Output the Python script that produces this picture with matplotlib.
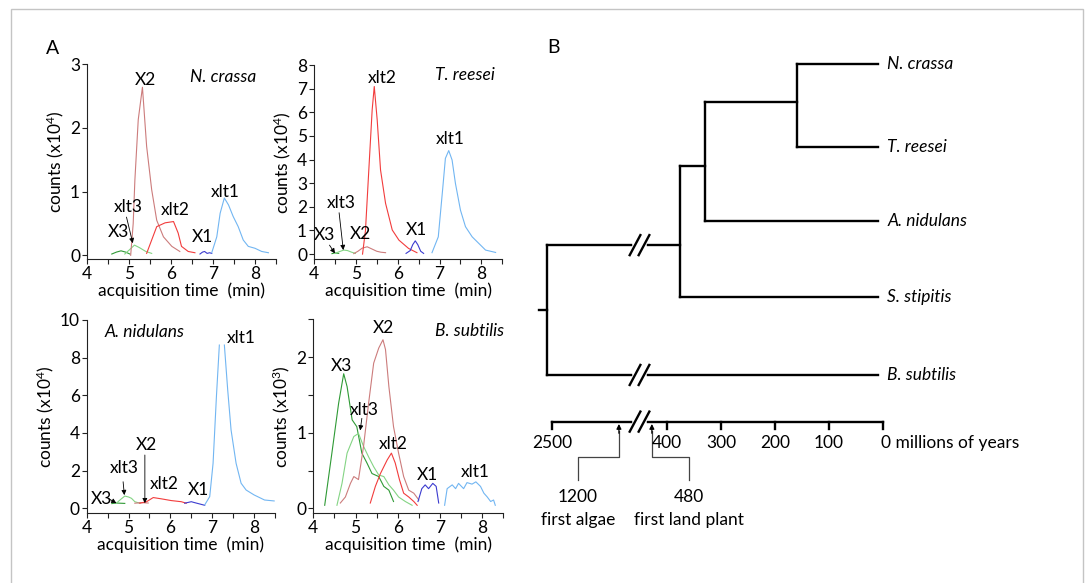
import numpy as np
import matplotlib
matplotlib.use("Agg")
import matplotlib.pyplot as plt
from matplotlib.patches import Rectangle

plt.rcParams['font.family'] = ['Lato', 'DejaVu Sans']
plt.rcParams['mathtext.fontset'] = 'custom'
plt.rcParams['mathtext.rm'] = 'Lato'
plt.rcParams['mathtext.it'] = 'Lato:italic'

colors = {'X3': '#2f9a35', 'xlt3': '#84d484', 'X2': '#cc7c7c',
          'xlt2': '#f23c3c', 'X1': '#3b3bcf', 'xlt1': '#72b6f2'}

# ---- N. crassa (counts x10^4)
nc_x3_t = [4.59, 4.7, 4.81, 4.92, 5.02]
nc_x3_y = [0.02, 0.05, 0.07, 0.05, 0.02]
nc_xlt3_t = [4.9, 5.0, 5.13, 5.25, 5.4, 5.54]
nc_xlt3_y = [0.02, 0.08, 0.16, 0.12, 0.06, 0.03]
nc_x2_t = [5.04, 5.1, 5.14, 5.22, 5.32, 5.42, 5.54, 5.66, 5.82, 6.02, 6.21]
nc_x2_y = [0.0, 0.5, 1.18, 2.13, 2.64, 1.71, 1.03, 0.55, 0.29, 0.14, 0.06]
nc_xlt2_t = [5.42, 5.54, 5.66, 5.86, 6.06, 6.17, 6.25, 6.41, 6.57]
nc_xlt2_y = [0.03, 0.24, 0.45, 0.51, 0.53, 0.35, 0.14, 0.06, 0.04]
nc_x1_t = [6.69, 6.75, 6.8, 6.86, 6.92, 6.97]
nc_x1_y = [0.02, 0.05, 0.06, 0.03, 0.04, 0.03]
nc_xlt1_t = [6.97, 7.09, 7.17, 7.27, 7.37, 7.48, 7.6, 7.72, 7.84, 8.0, 8.16, 8.32]
nc_xlt1_y = [0.04, 0.29, 0.66, 0.9, 0.79, 0.61, 0.45, 0.24, 0.14, 0.11, 0.06, 0.04]

# ---- T. reesei (counts x10^4)
tr_x3_t = [4.43, 4.5, 4.59]
tr_x3_y = [0.02, 0.05, 0.03]
tr_xlt3_t = [4.5, 4.6, 4.71, 4.8, 4.9, 4.99]
tr_xlt3_y = [0.03, 0.1, 0.17, 0.15, 0.08, 0.03]
tr_x2_t = [4.95, 5.05, 5.15, 5.27, 5.38, 5.5, 5.6, 5.71]
tr_x2_y = [0.02, 0.12, 0.25, 0.31, 0.22, 0.12, 0.08, 0.06]
tr_xlt2_t = [5.16, 5.23, 5.31, 5.39, 5.44, 5.51, 5.59, 5.71, 5.87, 6.03, 6.26, 6.46]
tr_xlt2_y = [0.0, 1.0, 3.56, 6.1, 7.09, 5.68, 3.56, 2.15, 1.02, 0.59, 0.24, 0.06]
tr_x1_t = [6.2, 6.3, 6.36, 6.42, 6.48, 6.55, 6.62]
tr_x1_y = [0.03, 0.15, 0.4, 0.56, 0.4, 0.12, 0.03]
tr_xlt1_t = [6.82, 6.97, 7.08, 7.14, 7.22, 7.3, 7.38, 7.5, 7.62, 7.78, 7.94, 8.1, 8.34]
tr_xlt1_y = [0.06, 0.73, 2.85, 4.05, 4.38, 3.98, 2.99, 1.86, 1.16, 0.73, 0.45, 0.17, 0.07]

# ---- A. nidulans (counts x10^4)
an_x3_t = [4.6, 4.7, 4.8, 4.91]
an_x3_y = [0.25, 0.28, 0.27, 0.26]
an_xlt3_t = [4.71, 4.8, 4.91, 5.0, 5.07, 5.15, 5.27]
an_xlt3_y = [0.27, 0.45, 0.65, 0.6, 0.53, 0.35, 0.27]
an_x2_t = [5.15, 5.3, 5.47]
an_x2_y = [0.27, 0.3, 0.28]
an_xlt2_t = [5.27, 5.43, 5.59, 5.79, 6.02, 6.26, 6.38]
an_xlt2_y = [0.27, 0.35, 0.57, 0.5, 0.41, 0.35, 0.27]
an_x1_t = [6.34, 6.5, 6.58, 6.7, 6.82]
an_x1_y = [0.27, 0.35, 0.3, 0.23, 0.16]
an_xlt1_t = [6.82, 6.94, 7.02, 7.1, 7.17, 7.23, 7.29, 7.37, 7.45, 7.57, 7.69, 7.81, 8.0, 8.25, 8.48]
an_xlt1_y = [0.18, 0.62, 2.39, 5.93, 8.67, np.nan, 8.67, 6.28, 4.16, 2.39, 1.33, 0.97, 0.71, 0.44, 0.39]

# ---- B. subtilis (counts x10^3)
bs_x3_t = [4.27, 4.44, 4.6, 4.72, 4.8, 4.92, 5.03, 5.15, 5.27, 5.39, 5.55, 5.67, 5.79, 5.9]
bs_x3_y = [0.04, 0.73, 1.39, 1.78, 1.61, 1.17, 1.08, 0.73, 0.6, 0.46, 0.42, 0.29, 0.24, 0.09]
bs_xlt3_t = [4.56, 4.68, 4.8, 4.96, 5.07, 5.19, 5.31, 5.43, 5.55, 5.67, 5.79, 5.9, 6.02, 6.18, 6.34]
bs_xlt3_y = [0.04, 0.33, 0.73, 0.95, 0.99, 0.82, 0.68, 0.55, 0.44, 0.42, 0.31, 0.24, 0.15, 0.09, 0.04]
bs_x2_t = [4.64, 4.76, 4.88, 4.96, 5.07, 5.19, 5.31, 5.43, 5.55, 5.65, 5.71, 5.79, 5.9, 6.02,
           6.14, 6.26, 6.38, 6.5]
bs_x2_y = [0.07, 0.15, 0.33, 0.42, 0.38, 0.82, 1.39, 1.92, 2.12, 2.23, 2.1, 1.61, 1.08, 0.73,
           0.42, 0.24, 0.2, 0.11]
bs_xlt2_t = [5.35, 5.47, 5.59, 5.67, 5.75, 5.85, 5.94, 6.04, 6.14, 6.26, 6.38, 6.46]
bs_xlt2_y = [0.07, 0.29, 0.46, 0.55, 0.64, 0.73, 0.6, 0.38, 0.2, 0.15, 0.09, 0.04]
bs_x1_t = [6.48, 6.57, 6.65, 6.73, 6.83, 6.91, 6.97]
bs_x1_y = [0.09, 0.26, 0.31, 0.26, 0.33, 0.29, 0.07]
bs_xlt1_t = [7.11, 7.17, 7.29, 7.37, 7.44, 7.56, 7.64, 7.76, 7.85, 7.96, 8.04, 8.12, 8.2, 8.27, 8.31]
bs_xlt1_y = [0.04, 0.26, 0.31, 0.26, 0.33, 0.26, 0.34, 0.32, 0.35, 0.29, 0.2, 0.15, 0.09, 0.11, 0.04]

# ---- tree (panel B)
taxa = ['N. crassa', 'T. reesei', 'A. nidulans', 'S. stipitis', 'B. subtilis']
taxa_row = [0, 1.07, 2.02, 3.0, 4.0]
tip_age = 10
node_names = ['NcTr', 'NcTrAn', 'Fungi', 'Root']
node_age = [160, 330, 375, 2600]
node_row = [0.49, 1.31, 2.33, 3.16]
node_children = [['N. crassa', 'T. reesei'], ['NcTr', 'A. nidulans'],
                 ['NcTrAn', 'S. stipitis'], ['Fungi', 'B. subtilis']]
time_ticks = [2500, 400, 300, 200, 100, 0]
event_age = [1200, 480]
event_text = ['1200', '480']
event_name = ['first algae', 'first land plant']
break_age = 750

fig = plt.figure(figsize=(10.9, 5.83), dpi=100)
W, H = 1090, 583
FS = 12.5

# light frame around the figure
fig.patches.append(Rectangle((11 / W, -0.05), 1072 / W, 1 - 9 / H + 0.05, transform=fig.transFigure,
                             fill=False, edgecolor='#c4c4c4', lw=1.0))


def panel(rect, curves, ylim, yticks, exp, species, sp_pos, labels, arrows, yminor=None):
    ax = fig.add_axes(rect)
    for name, t, y in curves:
        ax.plot(t, y, color=colors[name], lw=0.8)
    ax.set_xlim(4, 8.5)
    ax.set_ylim(*ylim)
    ax.set_xticks([4, 5, 6, 7, 8])
    ax.set_xticks(np.arange(4.5, 8.6, 1.0), minor=True)
    ax.set_yticks(yticks)
    if yminor is not None:
        ax.set_yticks(yminor, minor=True)
    for s in ['top', 'right']:
        ax.spines[s].set_visible(False)
    for s in ['left', 'bottom']:
        ax.spines[s].set_linewidth(0.8)
        ax.spines[s].set_color('#222222')
    ax.tick_params(which='both', direction='out', length=3.5, width=0.8, color='#222222',
                   labelsize=FS, pad=1.5)
    ax.set_xlabel('acquisition time  (min)', fontsize=FS, labelpad=0)
    ax.set_ylabel('counts (x10$^{%d}$)' % exp, fontsize=FS, labelpad=3)
    ax.text(sp_pos[0], sp_pos[1], species, fontsize=FS, style='italic', ha='center', va='center')
    for txt, x, y in labels:
        ax.text(x, y, txt, fontsize=FS, ha='center', va='center')
    for (x0, y0), (x1, y1) in arrows:
        ax.annotate('', xy=(x1, y1), xytext=(x0, y0),
                    arrowprops=dict(arrowstyle='-|>', color='black', lw=0.6,
                                    mutation_scale=7, shrinkA=0, shrinkB=0))
    return ax


panel([87 / W, 1 - 259.3 / H, 189 / W, 195 / H],
      [('X3', nc_x3_t, nc_x3_y), ('xlt3', nc_xlt3_t, nc_xlt3_y), ('X2', nc_x2_t, nc_x2_y),
       ('xlt2', nc_xlt2_t, nc_xlt2_y), ('X1', nc_x1_t, nc_x1_y), ('xlt1', nc_xlt1_t, nc_xlt1_y)],
      (-0.063, 3), [0, 1, 2, 3], 4, 'N. crassa', (7.24, 2.8),
      [('X2', 5.38, 2.75), ('xlt1', 7.29, 0.99), ('xlt2', 6.1, 0.71), ('xlt3', 4.98, 0.76),
       ('X3', 4.74, 0.37), ('X1', 6.76, 0.29)],
      [((4.94, 0.6), (5.09, 0.19))])

panel([314 / W, 1 - 259.3 / H, 188.3 / W, 194.3 / H],
      [('X3', tr_x3_t, tr_x3_y), ('xlt3', tr_xlt3_t, tr_xlt3_y), ('X2', tr_x2_t, tr_x2_y),
       ('xlt2', tr_xlt2_t, tr_xlt2_y), ('X1', tr_x1_t, tr_x1_y), ('xlt1', tr_xlt1_t, tr_xlt1_y)],
      (-0.22, 8), list(range(0, 9)), 4, 'T. reesei', (7.61, 7.58),
      [('xlt2', 5.62, 7.44), ('xlt1', 7.25, 4.87), ('xlt3', 4.66, 2.16), ('X3', 4.26, 0.8),
       ('X2', 5.1, 0.85), ('X1', 6.46, 1.02)],
      [((4.6, 1.75), (4.7, 0.17)), ((4.37, 0.38), (4.5, 0.03))])

panel([86.7 / W, 1 - 513 / H, 188.3 / W, 193 / H],
      [('X3', an_x3_t, an_x3_y), ('xlt3', an_xlt3_t, an_xlt3_y), ('X2', an_x2_t, an_x2_y),
       ('xlt2', an_xlt2_t, an_xlt2_y), ('X1', an_x1_t, an_x1_y), ('xlt1', an_xlt1_t, an_xlt1_y)],
      (-0.25, 10), [0, 2, 4, 6, 8, 10], 4, 'A. nidulans', (5.39, 9.38),
      [('xlt1', 7.69, 9.03), ('X2', 5.43, 3.36), ('xlt3', 4.91, 2.12), ('xlt2', 5.86, 1.29),
       ('X1', 6.66, 0.97), ('X3', 4.36, 0.48)],
      [((5.39, 2.83), (5.39, 0.27)), ((4.87, 1.41), (4.9, 0.7)), ((4.51, 0.53), (4.71, 0.27))])

panel([313.3 / W, 1 - 513 / H, 190 / W, 193.7 / H],
      [('X3', bs_x3_t, bs_x3_y), ('xlt3', bs_xlt3_t, bs_xlt3_y), ('X2', bs_x2_t, bs_x2_y),
       ('xlt2', bs_xlt2_t, bs_xlt2_y), ('X1', bs_x1_t, bs_x1_y), ('xlt1', bs_xlt1_t, bs_xlt1_y)],
      (-0.062, 2.5), [0, 1, 2], 3, 'B. subtilis', (7.71, 2.34),
      [('X2', 5.66, 2.38), ('X3', 4.67, 1.88), ('xlt3', 5.2, 1.3), ('xlt2', 5.9, 0.85),
       ('X1', 6.7, 0.44), ('xlt1', 7.83, 0.48)],
      [((5.15, 1.19), (5.11, 1.03))], yminor=[0.5, 1.5, 2.5])

fig.text(53 / W, 1 - 48 / H, 'A', fontsize=14, ha='center', va='center')

# ---------------- panel B: tree on a broken time axis
age_anchor = [0, 400, 480, 1200, 2500, 3000]
t_anchor = [0, 400, 428, 489, 613, 661]


def to_t(age):
    return np.interp(age, age_anchor, t_anchor)


axb = fig.add_axes([520 / W, 23 / H, 560 / W, 530 / H])
axb.set_xlim(672.2, -364.8)
axb.set_ylim(6.38, -0.437)
axb.axis('off')

lw_tree = 1.7
pos = {n: (to_t(tip_age), r) for n, r in zip(taxa, taxa_row)}
for n, a, r in zip(node_names, node_age, node_row):
    pos[n] = (to_t(a), r)
for n, kids in zip(node_names, node_children):
    nt, nr = pos[n]
    rows = [pos[k][1] for k in kids]
    axb.plot([nt, nt], [min(rows), max(rows)], color='black', lw=lw_tree, solid_capstyle='projecting')
    for k in kids:
        axb.plot([nt, pos[k][0]], [pos[k][1], pos[k][1]], color='black', lw=lw_tree)
rt, rr = pos['Root']
axb.plot([rt + 15, rt], [rr, rr], color='black', lw=lw_tree)

for name, r in zip(taxa, taxa_row):
    axb.text(to_t(tip_age) - 18, r, name, fontsize=FS, style='italic', ha='left', va='center')

# time axis
ax_row = 4.6
axb.plot([to_t(max(time_ticks)), to_t(min(time_ticks))], [ax_row, ax_row], color='black', lw=lw_tree)
for a in time_ticks:
    axb.plot([to_t(a), to_t(a)], [ax_row, ax_row + 0.09], color='black', lw=lw_tree)
    lab = str(a) if a != 0 else '0 millions of years'
    axb.text(to_t(a) + (4 if a == 0 else 0), 4.87, lab, fontsize=FS,
             ha='left' if a == 0 else 'center', va='center')


def draw_break(row):
    tb = to_t(break_age)
    axb.plot([tb + 8.3, tb - 8.3], [row, row], color='white', lw=4, zorder=3)
    for off in (8.3, -8.3):
        axb.plot([tb + off + 9.9, tb + off - 9.9], [row + 0.129, row - 0.129],
                 color='black', lw=lw_tree, zorder=4)


draw_break(pos['Fungi'][1])
draw_break(pos['B. subtilis'][1])
draw_break(ax_row)

# event markers below the axis
label_shift = [76, -68]
for a, txt, nm, sh in zip(event_age, event_text, event_name, label_shift):
    et = to_t(a)
    lt = et + sh
    axb.plot([lt, lt, et, et], [5.35, 5.05, 5.05, 4.72], color='#444444', lw=0.9)
    axb.annotate('', xy=(et, ax_row + 0.03), xytext=(et, 4.75),
                 arrowprops=dict(arrowstyle='-|>', color='black', lw=0.9,
                                 mutation_scale=7, shrinkA=0, shrinkB=0))
    axb.text(lt, 5.57, txt, fontsize=FS, ha='center', va='center')
    axb.text(lt, 5.86, nm, fontsize=FS, ha='center', va='center')

axb.text(611, -0.206, 'B', fontsize=14, ha='center', va='center')

fig.savefig('out.png', dpi=100)
